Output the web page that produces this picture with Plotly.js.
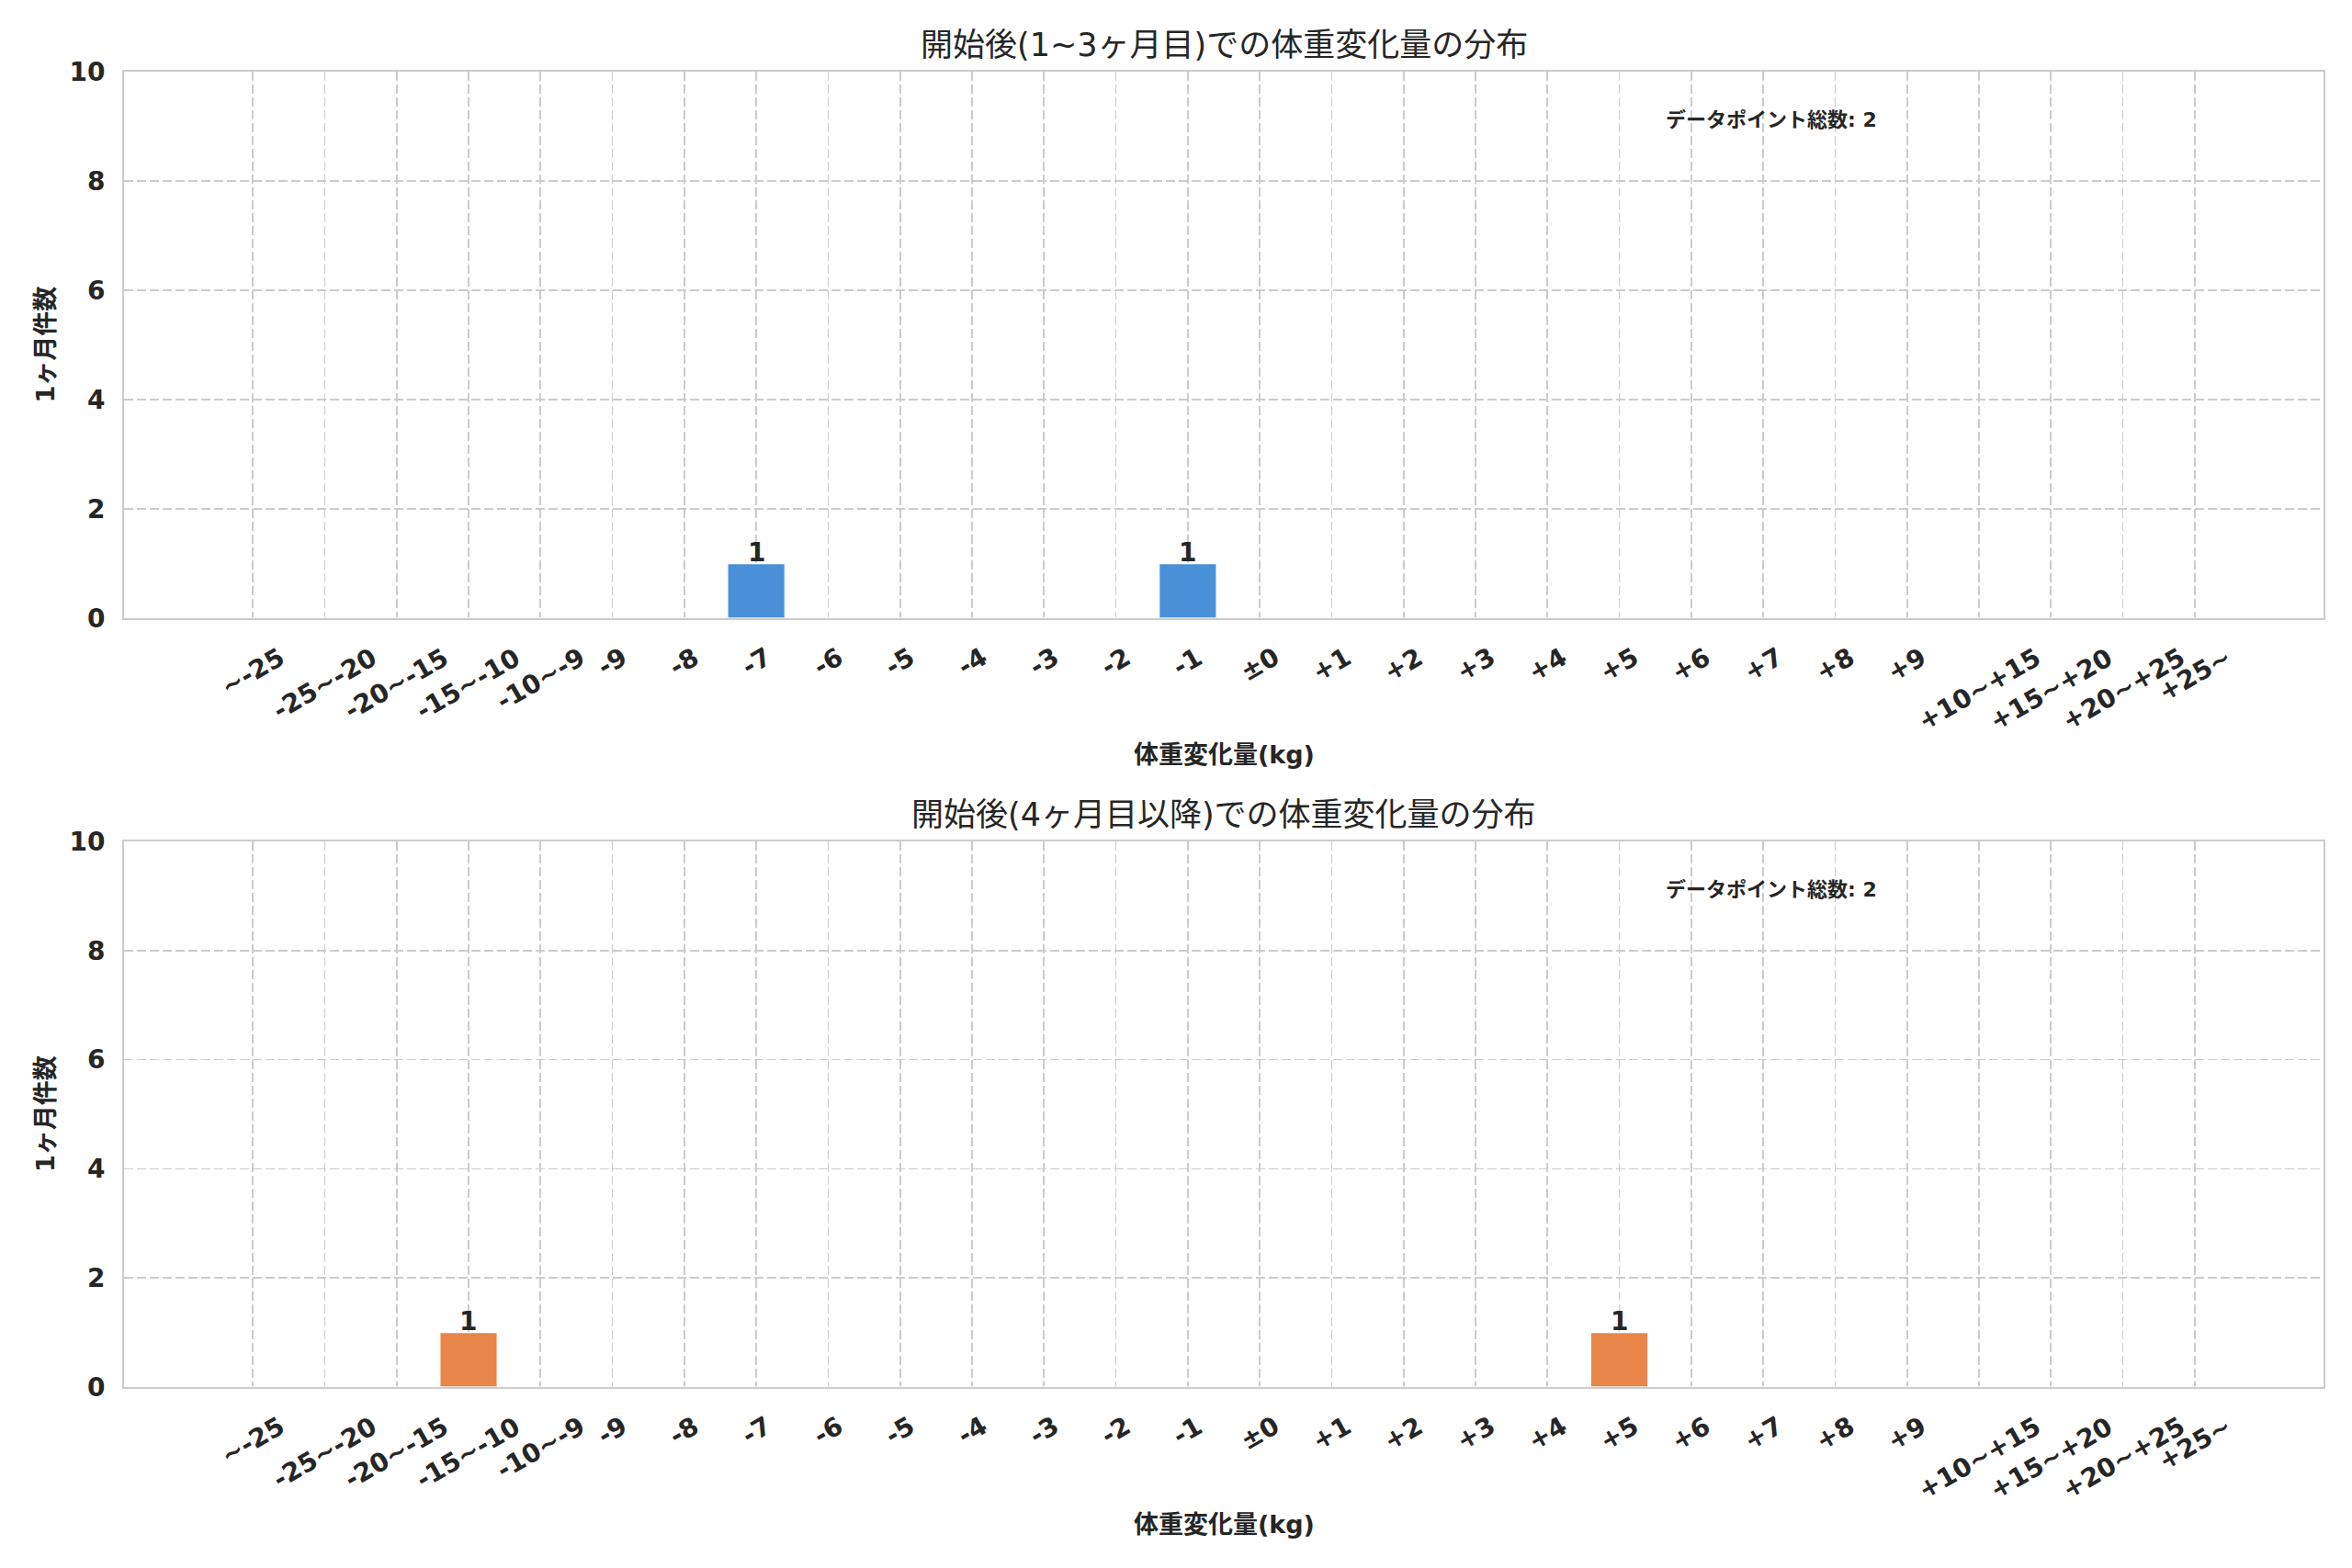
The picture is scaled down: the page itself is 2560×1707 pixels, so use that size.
<!DOCTYPE html>
<html>
<head>
<meta charset="utf-8">
<script src="https://cdn.plot.ly/plotly-3.0.1.min.js"></script>
<style>html,body{margin:0;padding:0;background:#fff;}#chart{width:2560px;height:1707px;}</style>
</head>
<body>
<div id="chart"></div>
<script>
const categories = ["~-25","-25~-20","-20~-15","-15~-10","-10~-9","-9","-8","-7","-6","-5","-4","-3","-2","-1","±0","+1","+2","+3","+4","+5","+6","+7","+8","+9","+10~+15","+15~+20","+20~+25","+25~"];
const countsEarly = [0,0,0,0,0,0,0,1,0,0,0,0,0,1,0,0,0,0,0,0,0,0,0,0,0,0,0,0];
const countsLate  = [0,0,0,1,0,0,0,0,0,0,0,0,0,0,0,0,0,0,0,1,0,0,0,0,0,0,0,0];
const titleEarly = "開始後(1~3ヶ月目)での体重変化量の分布";
const titleLate = "開始後(4ヶ月目以降)での体重変化量の分布";
const xLabel = "体重変化量(kg)";
const yLabel = "1ヶ月件数";
const totalLabel = "データポイント総数";
const totalEarly = 2;
const totalLate = 2;
const yTicks = [0,2,4,6,8,10];

const FONT = "DejaVu Sans, 'Noto Sans CJK JP', sans-serif";
const DARK = "#262626";
const GRID = "#cccccc";
const domTop = [0.5845, 1];
const domBot = [0, 0.4148];

function xaxisDef(anchor) {
  return {
    type: "category", anchor: anchor, domain: [0,1],
    categoryorder: "array", categoryarray: categories,
    range: [-1.79, 28.79], showticklabels: false, ticks: "",
    showgrid: true, gridcolor: GRID, gridwidth: 1.6, griddash: "10px,4px",
    showline: true, mirror: true, linecolor: GRID, linewidth: 2,
    zeroline: false, fixedrange: true
  };
}
function yaxisDef(anchor, domain) {
  return {
    anchor: anchor, domain: domain, range: [0, 10], tickvals: yTicks,
    ticktext: yTicks.map(String), ticks: "", ticklabelstandoff: 13,
    tickfont: {family: FONT, size: 28, color: DARK, weight: "bold"},
    showgrid: true, gridcolor: GRID, gridwidth: 1.6, griddash: "10px,4px",
    showline: true, mirror: true, linecolor: GRID, linewidth: 2,
    zeroline: false, fixedrange: true
  };
}

const traces = [
  {type: "bar", x: categories, y: countsEarly, xaxis: "x", yaxis: "y", width: 0.8,
   marker: {color: "#4A90D9", line: {color: "#ffffff", width: 1.5}}, hoverinfo: "skip"},
  {type: "bar", x: categories, y: countsLate, xaxis: "x2", yaxis: "y2", width: 0.8,
   marker: {color: "#E8864A", line: {color: "#ffffff", width: 1.5}}, hoverinfo: "skip"}
];

const annotations = [];
const panels = [
  {xr: "x", yr: "y", counts: countsEarly, dom: domTop, title: titleEarly, total: totalEarly},
  {xr: "x2", yr: "y2", counts: countsLate, dom: domBot, title: titleLate, total: totalLate}
];
const plotH = 1707 - 78 - 197;
panels.forEach(p => {
  // tick labels (rotated, centred on tick like the reference)
  categories.forEach((c, i) => {
    annotations.push({x: i, xref: p.xr, y: p.dom[0], yref: "paper", text: c,
      showarrow: false, textangle: -30, xanchor: "center", yanchor: "top", yshift: -23,
      font: {family: FONT, size: 28, color: DARK, weight: "bold"}});
  });
  // bar value labels
  p.counts.forEach((v, i) => {
    if (v > 0) annotations.push({x: i, xref: p.xr, y: v, yref: p.yr, text: String(v),
      showarrow: false, xanchor: "center", yanchor: "bottom", yshift: -6,
      font: {family: FONT, size: 28, color: DARK, weight: "bold"}});
  });
  // subplot title
  annotations.push({x: 0.5, xref: "paper", y: p.dom[1] + 29/plotH, yref: "paper", text: p.title,
    showarrow: false, xanchor: "center", yanchor: "middle",
    font: {family: FONT, size: 35, color: DARK}});
  // x axis label
  annotations.push({x: 0.5, xref: "paper", y: p.dom[0] - 149/plotH, yref: "paper", text: xLabel,
    showarrow: false, xanchor: "center", yanchor: "middle",
    font: {family: FONT, size: 27, color: DARK, weight: "bold"}});
  // y axis label
  annotations.push({x: -86/2394, xref: "paper", y: (p.dom[0] + p.dom[1]) / 2, yref: "paper", text: yLabel,
    showarrow: false, textangle: -90, xanchor: "center", yanchor: "middle",
    font: {family: FONT, size: 27, color: DARK, weight: "bold"}});
  // total annotation
  annotations.push({x: 0.7, xref: "paper", y: p.dom[1] - 52/plotH, yref: "paper", text: totalLabel + ": " + p.total,
    showarrow: false, xanchor: "left", yanchor: "middle",
    font: {family: FONT, size: 22, color: DARK, weight: "bold"}});
});

const layout = {
  width: 2560, height: 1707,
  margin: {l: 135, r: 31, t: 78, b: 197},
  paper_bgcolor: "#ffffff", plot_bgcolor: "#ffffff",
  showlegend: false, bargap: 0.2,
  font: {family: FONT, color: DARK},
  xaxis: xaxisDef("y"),
  yaxis: yaxisDef("x", domTop),
  xaxis2: xaxisDef("y2"),
  yaxis2: yaxisDef("x2", domBot),
  annotations: annotations
};

Plotly.newPlot("chart", traces, layout, {staticPlot: true, displayModeBar: false});
</script>
</body>
</html>
